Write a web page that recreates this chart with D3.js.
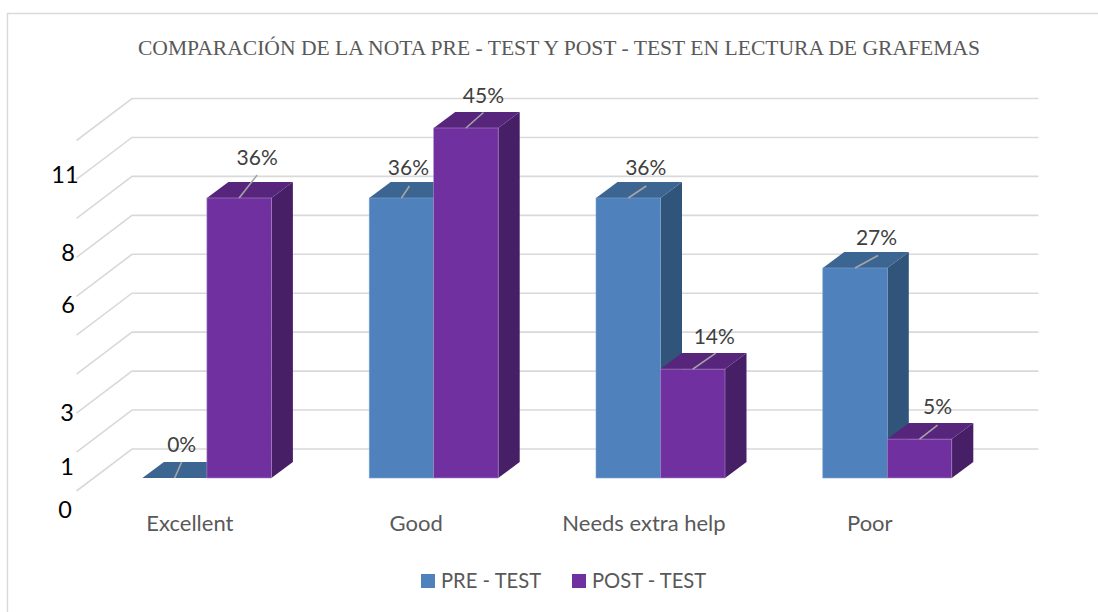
<!DOCTYPE html>
<html><head><meta charset="utf-8">
<style>html,body{margin:0;padding:0;background:#fff}svg{display:block}</style>
<script src="https://cdn.jsdelivr.net/npm/d3@7"></script></head>
<body><svg id="c" width="1098" height="612"></svg>
<script>
const titleText = "COMPARACIÓN DE LA NOTA PRE - TEST Y POST - TEST EN LECTURA DE GRAFEMAS";
const categories = ["Excellent", "Good", "Needs extra help", "Poor"];
const seriesNames = ["PRE - TEST", "POST - TEST"];
const preTest = [0, 36, 36, 27];
const postTest = [36, 45, 14, 5];
const axisLabels = ["0", "1", "3", "6", "8", "11"];
const gridSteps = d3.range(10);

// layout only
const axisLabelY = [518, 475, 421, 313, 261, 183];
const axisLabelX = [65, 67, 67, 68, 68, 65];
const catOffset = [-17, -17.5, -16.5, -17.5];
const preLeader = [[7,-16,7,-26],[8,-12,7,-23],[18,-12,17.5,-23],[23,-12.5,21.5,-23]];
const postLeader = [[18,-23,18,-33],[17.5,-15.5,17.5,-25],[23,-16,21.5,-25],[18,-14,18,-25]];
const colors = {pre:{front:"#4f81bd",top:"#3d6592",side:"#31547a",edge:"#7ea3d0"},
                post:{front:"#7030a0",top:"#57257c",side:"#471f66",edge:"#a98bc4"}};
const svg = d3.select("#c");
const dx = 21.5, dy = -16;

// frame
svg.append("path").attr("d","M7.5,612V13.5H1098").attr("fill","none").attr("stroke","#d9d9d9").attr("stroke-width",1.4);

svg.append("text").attr("x",559).attr("y",54.5).attr("text-anchor","middle")
  .attr("font-family","Liberation Serif").attr("font-size",21.6).attr("fill","#595959").text(titleText);

// scales
const gridY = d3.scaleLinear().domain([0,9]).range([449,98.5]);
const x = d3.scaleBand().domain(categories).range([93.5,1000.7]);
const groupW = 129;
const sub = d3.scaleBand().domain([0,1]).range([0,groupW]);
const y = d3.scaleLinear().domain([0,45]).range([478,128]);
const groupX = c => x(c) + (x.bandwidth()-groupW)/2;

// gridlines
svg.append("g").selectAll("path").data(gridSteps).join("path")
  .attr("d",k=>{const v=gridY(k);return `M76.5,${v+42}L132,${v}H1038.5`;})
  .attr("fill","none").attr("stroke","#d9d9d9").attr("stroke-width",1.6);

// bars
function bar(g,xl,v,c){
  const w=sub.bandwidth(), yb=y(0), yt=y(v), xr=xl+w;
  if(v>0){
    g.append("path").attr("d",`M${xr},${yb}L${xr+dx},${yb+dy}V${yt+dy}L${xr},${yt}Z`).attr("fill",c.side);
  }
  g.append("path").attr("d",`M${xl},${yt}L${xl+dx},${yt+dy}H${xr+dx}L${xr},${yt}Z`).attr("fill",c.top);
  if(v>0){
    g.append("rect").attr("x",xl).attr("y",yt).attr("width",w).attr("height",yb-yt).attr("fill",c.front)
      .attr("stroke",c.edge).attr("stroke-width",0.6);
  }
}
function label(g,xl,v,o){
  const w=sub.bandwidth(), yt=y(v), cx=xl+w/2;
  g.append("line").attr("x1",cx).attr("y1",yt).attr("x2",cx+o[0]).attr("y2",yt+o[1])
    .attr("stroke","#a6a6a6").attr("stroke-width",1.6);
  g.append("text").attr("x",cx+o[2]).attr("y",yt+o[3]).attr("text-anchor","middle")
    .attr("font-family","Lato").attr("font-size",21).attr("fill","#404040").text(v+"%");
}
const barsG = svg.append("g");
categories.forEach((c,i)=>{
  const gx=groupX(c);
  bar(barsG,gx+sub(0),preTest[i],colors.pre);
  bar(barsG,gx+sub(1),postTest[i],colors.post);
});
const labelsG = svg.append("g");
categories.forEach((c,i)=>{
  const gx=groupX(c);
  label(labelsG,gx+sub(0),preTest[i],preLeader[i]);
  label(labelsG,gx+sub(1),postTest[i],postLeader[i]);
});

// category labels
svg.append("g").selectAll("text").data(categories).join("text")
  .attr("x",(c,i)=>groupX(c)+groupW/2+catOffset[i]).attr("y",530.5).attr("text-anchor","middle")
  .attr("font-family","Lato").attr("font-size",22).attr("fill","#595959").text(c=>c);

// axis labels
svg.append("g").selectAll("text").data(axisLabels).join("text")
  .attr("x",(d,i)=>axisLabelX[i]).attr("y",(d,i)=>axisLabelY[i]).attr("text-anchor","middle")
  .attr("font-family","Lato").attr("font-size",23.5).attr("fill","#000").text(d=>d);

// legend
const leg = svg.append("g");
[[421,colors.pre.front],[572,colors.post.front]].forEach((l,i)=>{
  leg.append("rect").attr("x",l[0]).attr("y",574).attr("width",14).attr("height",14).attr("fill",l[1]);
  leg.append("text").attr("x",l[0]+20).attr("y",588.3).attr("font-family","Lato").attr("font-size",20.2)
    .attr("fill","#595959").text(seriesNames[i]);
});
</script></body></html>
